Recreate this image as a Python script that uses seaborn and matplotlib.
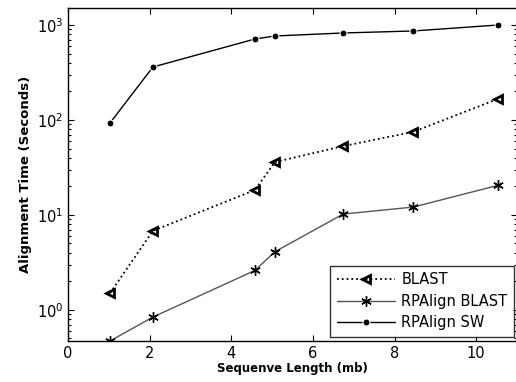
import numpy as np
import pandas as pd
import matplotlib
matplotlib.use('Agg')
import matplotlib.pyplot as plt
import matplotlib.ticker as mticker
import seaborn as sns

# values
seq_len = [1.03, 2.08, 4.58, 5.07, 6.74, 8.46, 10.54]
blast = [1.5, 6.8, 18.3, 36, 53, 75, 167]
rpalign_blast = [0.47, 0.84, 2.6, 4.1, 10.2, 12.1, 20.5]
rpalign_sw = [93, 361, 712, 766, 824, 865, 1000]

series_names = ['BLAST', 'RPAlign BLAST', 'RPAlign SW']
xticks = [0, 2, 4, 6, 8, 10]

sns.set_style('ticks')
plt.rcParams['font.family'] = ['DejaVu Sans']
plt.rcParams['text.color'] = 'black'
plt.rcParams['axes.labelcolor'] = 'black'

data = pd.DataFrame({
    'len': seq_len * 3,
    'time': blast + rpalign_blast + rpalign_sw,
    'method': [m for m in series_names for _ in seq_len],
})

fig = plt.figure(figsize=(5.16, 3.82), dpi=100)
# axes runs slightly past the right edge, like the cropped original
ax = fig.add_axes([68 / 516, 41 / 382, 449 / 516, 333 / 382])

styles = {
    'BLAST': dict(color='black', linestyle=':', linewidth=1.3, marker='<',
                  markersize=6, markerfacecolor='none', markeredgewidth=2.0,
                  markeredgecolor='black'),
    'RPAlign BLAST': dict(color='#555555', linestyle='-', linewidth=1.0,
                          marker=(6, 2, 0), markersize=7.5, markeredgewidth=1.0,
                          markeredgecolor='black'),
    'RPAlign SW': dict(color='black', linestyle='-', linewidth=1.0, marker='o',
                       markersize=5, markerfacecolor='black'),
}

for name in series_names:
    sub = data[data['method'] == name]
    sns.lineplot(data=sub, x='len', y='time', ax=ax, label=name, **styles[name])

ax.set_yscale('log')
ax.set_xlim(0, 11)
ax.set_ylim(0.47, 1510)
ax.set_xticks(xticks)
ax.yaxis.set_major_locator(mticker.LogLocator(base=10, numticks=10))
ax.yaxis.set_minor_locator(mticker.LogLocator(base=10, subs=np.arange(2, 10), numticks=10))
ax.yaxis.set_minor_formatter(mticker.NullFormatter())
ax.tick_params(which='both', direction='in', top=True, right=True, labelsize=10.5,
               colors='black', labelcolor='black')
ax.tick_params(which='major', length=4, width=0.8)
ax.tick_params(which='minor', length=2.5, width=0.8)
for s in ax.spines.values():
    s.set_linewidth(1.0)
    s.set_color('black')

ax.set_xlabel('Sequenve Length (mb)', fontsize=8.5, fontweight='bold', labelpad=1)
ax.set_ylabel('Alignment Time (Seconds)', fontsize=9.5, fontweight='bold', labelpad=3)

leg = ax.legend(loc='lower right', bbox_to_anchor=(0.993, 0.012), borderaxespad=0,
                fontsize=10.5, frameon=True, fancybox=False, handlelength=4.0,
                labelspacing=0.45, borderpad=0.45, handletextpad=0.4)
leg.get_frame().set_edgecolor('black')
leg.get_frame().set_linewidth(1.0)
for t in leg.get_texts():
    t.set_color('black')

fig.savefig('out.png', dpi=100)
